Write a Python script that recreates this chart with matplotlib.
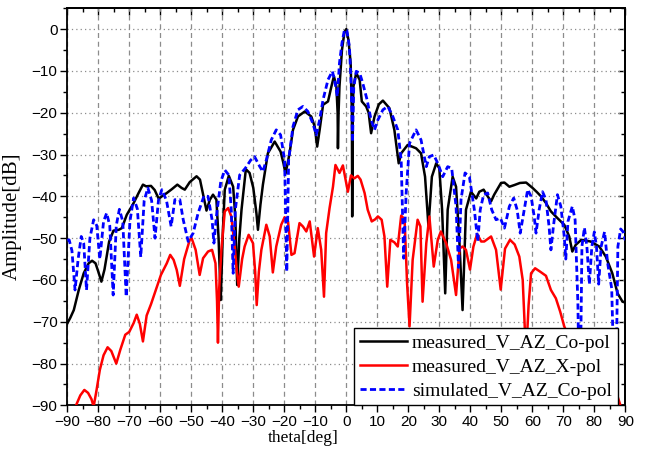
import matplotlib
matplotlib.use("Agg")
import matplotlib.pyplot as plt
from matplotlib.ticker import MultipleLocator

# measured co-polar cut (deg, dB)
theta_co = [-90, -89.0, -87.9, -86.3, -84.7, -83.1, -82.0, -80.9, -80.0, -79.0, -78.0, -76.5,
            -75.1, -73.4, -72.4, -70.8, -68.6, -67.0, -65.6, -64.6, -63.0, -61.8, -60.5, -59.5,
            -57.9, -56.3, -54.5, -53.1, -52.1, -50.5, -48.3, -47.2, -46.5, -45.1, -44.0, -43.0,
            -41.9, -41.2, -40.5, -39.8, -39.2, -37.9, -36.5, -35.8, -35.2, -34.5, -33.8, -32.4,
            -31.2, -30.0, -29.0, -28.5, -27.7, -26.9, -25.3, -23.1, -21.2, -20.3, -19.6, -18.3,
            -17.2, -15.6, -13.4, -11.3, -10.2, -9.4, -8.6, -7.5, -5.9, -4.8, -4.0, -3.2,
            -2.8, -2.7, -2.5, -2.2, -1.4, -0.6, 0.0, 0.7, 1.4, 1.8, 1.9, 2.1,
            2.3, 3.2, 4.3, 5.0, 6.4, 7.2, 8.0, 9.1, 10.5, 11.8, 13.9, 15.5,
            16.9, 17.7, 19.8, 22.5, 24.1, 25.4, 26.5, 27.6, 29.0, 30.0, 30.9, 31.9,
            32.7, 34.3, 35.4, 36.5, 37.5, 38.6, 40.2, 41.9, 42.9, 44.3, 45.6, 46.7,
            47.7, 49.9, 51.0, 52.6, 54.2, 56.0, 58.0, 60.1, 61.5, 62.8, 64.4, 66.0,
            68.1, 70.3, 71.9, 72.9, 74.0, 75.8, 78.8, 81.6, 83.7, 85.8, 87.5, 89.1, 90]
amp_co = [-70.4, -69.0, -67.2, -62.4, -58.4, -56.0, -55.4, -56.0, -58.0, -60.4, -57.5, -50.8,
          -48.2, -48.0, -47.6, -44.4, -41.6, -39.2, -37.2, -37.6, -37.5, -38.5, -40.6, -40.0,
          -39.2, -38.3, -37.2, -38.0, -38.4, -36.6, -35.2, -36.0, -38.5, -43.4, -40.8, -39.6,
          -40.8, -50.0, -64.8, -48.0, -38.4, -35.1, -37.7, -45.0, -61.2, -50.0, -43.2, -33.5,
          -34.4, -38.0, -44.0, -48.0, -42.0, -37.2, -29.7, -26.9, -29.3, -32.0, -34.6, -29.7,
          -24.1, -20.9, -19.7, -20.9, -23.3, -28.1, -24.1, -18.1, -17.3, -13.7, -11.3, -13.7,
          -20.0, -28.5, -20.0, -13.7, -5.0, -0.7, 0.0, -2.6, -8.1, -20.0, -44.8, -20.0,
          -13.7, -10.5, -12.1, -17.3, -18.5, -20.0, -24.9, -20.9, -18.0, -17.1, -18.9, -24.1,
          -32.1, -29.7, -27.7, -28.5, -29.7, -35.3, -47.2, -35.3, -32.1, -33.3, -43.2, -63.2,
          -43.2, -35.3, -37.7, -51.2, -67.2, -43.2, -38.9, -40.5, -38.9, -38.4, -40.0, -41.2,
          -39.6, -36.8, -36.7, -37.7, -37.3, -36.8, -36.7, -38.0, -39.0, -40.0, -41.6, -43.6,
          -45.2, -46.8, -49.6, -53.2, -51.6, -50.4, -50.8, -52.0, -54.4, -58.4, -63.2, -65.2, -65.4]

# measured cross-polar cut (deg, dB)
theta_x = [-90, -87.3, -85.8, -84.5, -83.3, -82.2, -81.5, -80.6, -79.5, -78.3, -77.0, -75.8,
           -74.2, -72.9, -71.3, -70.0, -68.6, -67.6, -66.6, -65.6, -64.4, -63.0, -61.1, -59.8,
           -57.9, -56.8, -55.7, -54.7, -53.7, -52.3, -50.5, -49.9, -48.6, -47.3, -46.2, -44.6,
           -43.3, -42.2, -41.7, -41.4, -41.0, -40.3, -39.2, -38.1, -37.1, -36.0, -35.3, -34.7,
           -33.6, -32.8, -31.5, -30.1, -29.4, -28.9, -28.2, -27.4, -25.8, -24.7, -23.7, -22.6,
           -21.0, -19.9, -18.8, -17.7, -16.7, -15.1, -14.0, -12.9, -11.8, -10.4, -9.2, -8.1,
           -7.2, -6.5, -5.4, -4.3, -3.5, -2.2, -1.1, 0.5, 1.5, 2.6, 3.7, 4.6,
           5.9, 6.9, 8.2, 9.3, 10.2, 11.4, 12.3, 13.2, 14.2, 15.5, 16.6, 17.7,
           18.8, 19.6, 20.4, 21.4, 23.0, 23.9, 24.6, 25.8, 26.8, 28.2, 29.5, 30.5,
           32.2, 33.8, 35.4, 36.5, 37.5, 38.6, 39.9, 41.0, 42.2, 43.5, 44.5, 46.7,
           48.3, 49.8, 51.2, 52.8, 54.3, 55.8, 56.9, 57.6, 58.2, 58.8, 59.6, 60.9,
           62.5, 64.4, 66.0, 67.6, 69.0, 70.3, 72.0, 75.0, 78.0, 81.0, 84.0, 86.9, 88.6, 90]
amp_x = [-99.0, -90.2, -87.6, -86.3, -87.0, -88.5, -90.3, -86.5, -81.5, -78.0, -76.1, -77.0,
         -80.0, -76.7, -73.1, -72.4, -70.3, -68.3, -70.5, -74.7, -68.5, -65.8, -61.6, -58.8,
         -56.0, -54.0, -55.2, -57.6, -61.4, -55.0, -50.4, -50.0, -52.8, -58.8, -54.8, -53.2,
         -52.8, -56.0, -65.0, -75.0, -62.0, -52.8, -43.6, -42.8, -44.8, -52.0, -58.0, -61.6,
         -55.0, -52.0, -49.2, -51.2, -58.0, -66.0, -58.0, -52.8, -46.8, -49.6, -58.2, -52.0,
         -46.8, -45.0, -46.0, -54.0, -53.6, -46.4, -47.2, -48.4, -46.0, -54.4, -47.6, -52.8,
         -64.0, -48.8, -42.8, -37.7, -32.5, -34.4, -32.6, -38.9, -35.0, -35.7, -35.1, -36.0,
         -39.2, -43.2, -46.0, -45.5, -44.8, -45.6, -49.6, -61.6, -50.4, -51.0, -52.0, -44.6,
         -45.5, -60.8, -71.1, -55.2, -45.6, -47.2, -65.2, -51.2, -44.8, -56.8, -50.4, -48.4,
         -51.2, -55.2, -63.6, -52.5, -52.0, -52.8, -57.5, -52.0, -49.0, -50.8, -50.8, -49.6,
         -52.8, -62.3, -52.5, -50.4, -51.5, -54.4, -60.0, -72.0, -75.0, -66.0, -58.4, -57.2,
         -58.0, -59.0, -62.4, -64.4, -67.6, -71.1, -74.0, -77.0, -79.0, -81.0, -83.5, -86.5, -90.4, -93.0]

# simulated co-polar cut (deg, dB)
theta_sim = [-90, -89.4, -88.5, -87.5, -86.5, -85.5, -84.7, -83.8, -82.7, -81.5, -80.5, -79.5,
             -78.3, -77.3, -76.3, -75.2, -74.2, -73.2, -72.1, -71.0, -69.8, -68.6, -67.4, -66.3,
             -65.2, -64.0, -62.8, -61.7, -60.6, -59.5, -58.0, -56.5, -55.3, -53.7, -52.6, -51.0,
             -49.4, -47.8, -45.9, -44.6, -43.3, -42.7, -41.9, -40.5, -39.2, -37.9, -37.1, -36.5,
             -35.8, -34.4, -32.6, -30.8, -29.6, -27.9, -26.9, -25.8, -24.2, -22.6, -21.2, -19.9,
             -19.2, -18.6, -17.2, -15.6, -14.0, -12.4, -10.8, -9.7, -8.6, -7.5, -5.9, -4.5,
             -3.8, -2.9, -2.2, -1.4, -0.6, 0.2, 1.0, 1.6, 2.0, 2.4, 3.2, 4.3,
             5.3, 6.7, 8.0, 9.1, 10.2, 11.8, 13.4, 15.0, 16.6, 17.7, 18.5, 19.3,
             20.4, 22.5, 24.1, 25.8, 26.8, 28.2, 29.5, 31.1, 32.7, 34.0, 35.4, 36.2,
             37.0, 38.3, 39.7, 41.3, 42.4, 43.2, 44.3, 45.6, 46.9, 48.3, 49.7, 51.0,
             52.6, 54.0, 55.1, 56.1, 57.2, 58.5, 59.6, 60.6, 61.2, 62.2, 63.3, 64.4,
             65.4, 66.0, 66.8, 68.1, 69.2, 70.3, 70.8, 71.5, 72.9, 73.8, 74.7, 75.3,
             76.0, 76.8, 77.6, 78.4, 79.2, 80.0, 80.7, 81.4, 82.2, 83.3, 84.3, 85.6,
             86.8, 87.6, 88.5, 89.3, 90]
amp_sim = [-50.5, -50.4, -53.0, -62.4, -55.0, -49.6, -51.2, -62.4, -50.0, -45.6, -47.0, -55.0,
           -46.0, -44.0, -47.0, -63.6, -47.0, -43.1, -46.0, -64.0, -46.0, -40.4, -43.0, -54.5,
           -41.0, -38.0, -41.0, -50.0, -41.0, -38.4, -41.0, -47.2, -40.8, -40.8, -45.6, -50.8,
           -48.8, -44.0, -39.9, -40.0, -45.6, -51.2, -44.8, -36.5, -33.7, -34.9, -43.2, -58.4,
           -43.2, -34.9, -33.3, -31.3, -30.5, -32.9, -34.1, -31.3, -26.5, -24.1, -25.3, -31.3,
           -58.0, -31.3, -23.3, -19.3, -18.5, -19.7, -22.5, -25.3, -21.7, -16.9, -12.1, -10.1,
           -12.1, -16.1, -8.1, -3.3, -0.2, -0.4, -4.2, -13.7, -27.0, -14.0, -10.1, -10.5,
           -12.9, -16.9, -21.7, -24.1, -21.7, -19.3, -18.5, -20.9, -24.1, -31.3, -54.8, -39.2,
           -27.3, -24.1, -26.5, -32.9, -30.5, -30.1, -32.1, -35.3, -32.9, -33.3, -42.4, -57.0,
           -40.8, -34.4, -35.3, -43.2, -50.8, -43.2, -39.6, -39.2, -43.2, -45.6, -45.2, -47.6,
           -42.4, -40.4, -43.2, -48.8, -44.0, -38.4, -40.0, -44.8, -48.8, -43.2, -38.9, -40.8,
           -47.2, -52.8, -47.2, -39.6, -42.4, -49.6, -55.0, -46.0, -42.4, -45.6, -65.6, -96.0,
           -52.0, -47.5, -52.0, -61.0, -52.0, -48.5, -52.0, -61.0, -52.0, -48.5, -56.0, -62.0,
           -96.0, -52.0, -47.8, -48.5, -50.5]

theta_ticks = list(range(-90, 91, 10))
amp_ticks = list(range(-90, 1, 10))

fig = plt.figure(figsize=(6.47, 4.55), dpi=100)
ax = fig.add_axes([0.104, 0.109, 0.8625, 0.873])

ax.plot(theta_co, amp_co, color="black", lw=1.8, label="measured_V_AZ_Co-pol",
        zorder=3, solid_joinstyle="round")
ax.plot(theta_x, amp_x, color="#ff0000", lw=1.8, label="measured_V_AZ_X-pol",
        zorder=4, solid_joinstyle="round")
ax.plot(theta_sim, amp_sim, color="#0000ff", lw=2.0, ls=(0, (2.2, 1.2)),
        label="simulated_V_AZ_Co-pol", zorder=5)

ax.set_xlim(-90, 90)
ax.set_ylim(-90, 5)
ax.set_xticks(theta_ticks)
ax.set_yticks(amp_ticks)
ax.xaxis.set_minor_locator(MultipleLocator(5))
ax.yaxis.set_minor_locator(MultipleLocator(5))

# grid: dashed verticals, dotted horizontals
ax.xaxis.grid(True, which="major", color="#8c8c8c", lw=0.9, ls=(0, (4, 3)), zorder=0)
ax.yaxis.grid(True, which="major", color="#8c8c8c", lw=0.9, ls=(0, (1, 2.5)), zorder=0)

ax.tick_params(which="major", direction="out", length=5, width=1.0, pad=2)
ax.tick_params(which="minor", direction="out", length=2.8, width=1.0)
for lab in ax.get_xticklabels() + ax.get_yticklabels():
    lab.set_fontfamily("Liberation Sans")
    lab.set_fontsize(11)

# mirrored inward ticks on top and right
top = ax.secondary_xaxis("top")
top.set_xticks(theta_ticks)
top.xaxis.set_minor_locator(MultipleLocator(5))
top.tick_params(which="major", direction="in", length=5, width=1.0, labeltop=False)
top.tick_params(which="minor", direction="in", length=2.8, width=1.0)
right = ax.secondary_yaxis("right")
right.set_yticks(amp_ticks)
right.yaxis.set_minor_locator(MultipleLocator(5))
right.tick_params(which="major", direction="in", length=5, width=1.0, labelright=False)
right.tick_params(which="minor", direction="in", length=2.8, width=1.0)

for sp in list(ax.spines.values()) + [top.spines["top"], right.spines["right"]]:
    sp.set_linewidth(1.3)

ax.set_xlabel("theta[deg]", family="Liberation Serif", fontsize=12.5)
ax.xaxis.set_label_coords(0.422, -0.063)
ax.set_ylabel("Amplitude[dB]", family="Liberation Serif", fontsize=15)
ax.yaxis.set_label_coords(-0.081, 0.477)

leg = ax.legend(loc="lower right", bbox_to_anchor=(0.986, 0.0), borderaxespad=0,
                prop={"family": "Liberation Serif", "size": 14}, frameon=True,
                fancybox=False, framealpha=1.0, edgecolor="black",
                handlelength=2.4, handletextpad=0.25, labelspacing=0.33,
                borderpad=0.3)
leg.get_frame().set_linewidth(1.0)
leg.set_zorder(10)

fig.savefig("out.png", dpi=100)
